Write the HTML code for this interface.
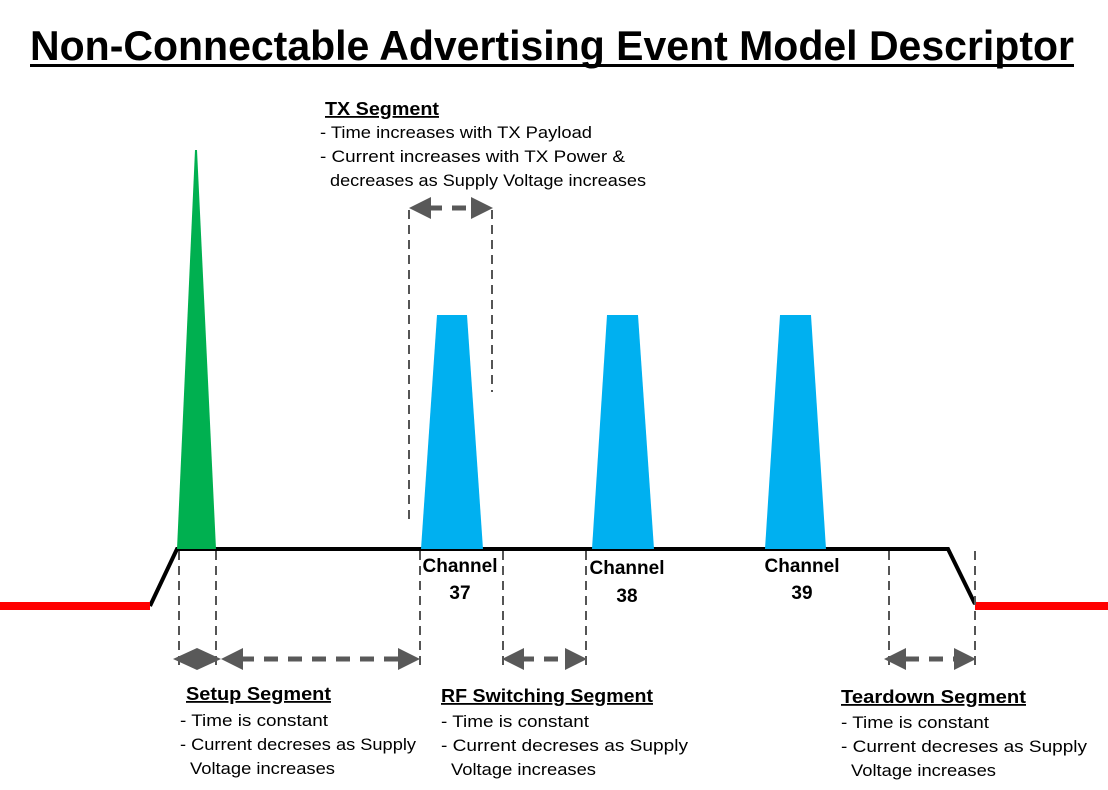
<!DOCTYPE html>
<html><head><style>body{margin:0;background:#fff}svg{display:block}text{font-family:"Liberation Sans",sans-serif}</style></head><body>
<svg width="1108" height="790" viewBox="0 0 1108 790" xmlns="http://www.w3.org/2000/svg">
<text x="30" y="60" font-size="42" font-weight="bold" textLength="1044" lengthAdjust="spacingAndGlyphs">Non-Connectable Advertising Event Model Descriptor</text>
<rect x="30" y="64" width="1044" height="3" fill="#000"/>
<g stroke="#000" stroke-width="4" fill="none">
<polyline points="150,606 177,549 948,549 975,604"/>
</g>
<g stroke="#f00" stroke-width="8"><line x1="0" y1="606" x2="150" y2="606"/><line x1="975" y1="606" x2="1108" y2="606"/></g>
<polygon points="177,549 195,150 197,150 216,549" fill="#00b050"/>
<g fill="#00b0f0">
<polygon points="421,549 437,315 467,315 483,549"/>
<polygon points="592,549 607,315 638,315 654,549"/>
<polygon points="765,549 780,315 811,315 826,549"/>
</g>
<g stroke="#555" stroke-width="2" stroke-dasharray="9,6">
<line x1="179" y1="551" x2="179" y2="665"/><line x1="216" y1="551" x2="216" y2="665"/>
<line x1="420" y1="551" x2="420" y2="665"/><line x1="503" y1="551" x2="503" y2="665"/>
<line x1="586" y1="551" x2="586" y2="665"/><line x1="889" y1="551" x2="889" y2="665"/>
<line x1="975" y1="551" x2="975" y2="665"/>
<line x1="409" y1="210" x2="409" y2="520"/><line x1="492" y1="210" x2="492" y2="392"/>
</g>
<g stroke="#595959" stroke-width="5" stroke-dasharray="14,10">
<line x1="240" y1="659" x2="400" y2="659"/>
<line x1="520" y1="659" x2="570" y2="659"/>
<line x1="905" y1="659" x2="958" y2="659"/>
<line x1="428" y1="208" x2="474" y2="208"/>
</g>
<g fill="#595959">
<polygon points="173,659 197,648 197,670"/><polygon points="221,659 197,648 197,670"/>
<polygon points="221,659 243,648 243,670"/><polygon points="420,659 398,648 398,670"/>
<polygon points="502,659 524,648 524,670"/><polygon points="587,659 565,648 565,670"/>
<polygon points="884,659 906,648 906,670"/><polygon points="976,659 954,648 954,670"/>
<polygon points="409,208 431,197 431,219"/><polygon points="493,208 471,197 471,219"/>
</g>
<g font-size="19" font-weight="bold" text-anchor="middle">
<text x="460" y="572">Channel</text><text x="460" y="599">37</text>
<text x="627" y="574">Channel</text><text x="627" y="602">38</text>
<text x="802" y="572">Channel</text><text x="802" y="599">39</text>
</g>
<g font-size="18" font-weight="bold" text-decoration="underline">
<text x="325" y="115" textLength="114" lengthAdjust="spacingAndGlyphs">TX Segment</text>
<text x="186" y="700" textLength="145" lengthAdjust="spacingAndGlyphs">Setup Segment</text>
<text x="441" y="702" textLength="212" lengthAdjust="spacingAndGlyphs">RF Switching Segment</text>
<text x="841" y="703" textLength="185" lengthAdjust="spacingAndGlyphs">Teardown Segment</text>
</g>
<g font-size="16.5">
<text x="320" y="138" textLength="272" lengthAdjust="spacingAndGlyphs">- Time increases with TX Payload</text>
<text x="320" y="162" textLength="305" lengthAdjust="spacingAndGlyphs">- Current increases with TX Power &amp;</text>
<text x="330" y="186" textLength="316" lengthAdjust="spacingAndGlyphs">decreases as Supply Voltage increases</text>
<text x="180" y="726" textLength="148" lengthAdjust="spacingAndGlyphs">- Time is constant</text>
<text x="180" y="750" textLength="236" lengthAdjust="spacingAndGlyphs">- Current decreses as Supply</text>
<text x="190" y="774" textLength="145" lengthAdjust="spacingAndGlyphs">Voltage increases</text>
<text x="441" y="727" textLength="148" lengthAdjust="spacingAndGlyphs">- Time is constant</text>
<text x="441" y="751" textLength="247" lengthAdjust="spacingAndGlyphs">- Current decreses as Supply</text>
<text x="451" y="775" textLength="145" lengthAdjust="spacingAndGlyphs">Voltage increases</text>
<text x="841" y="728" textLength="148" lengthAdjust="spacingAndGlyphs">- Time is constant</text>
<text x="841" y="752" textLength="246" lengthAdjust="spacingAndGlyphs">- Current decreses as Supply</text>
<text x="851" y="776" textLength="145" lengthAdjust="spacingAndGlyphs">Voltage increases</text>
</g>
</svg>
</body></html>
